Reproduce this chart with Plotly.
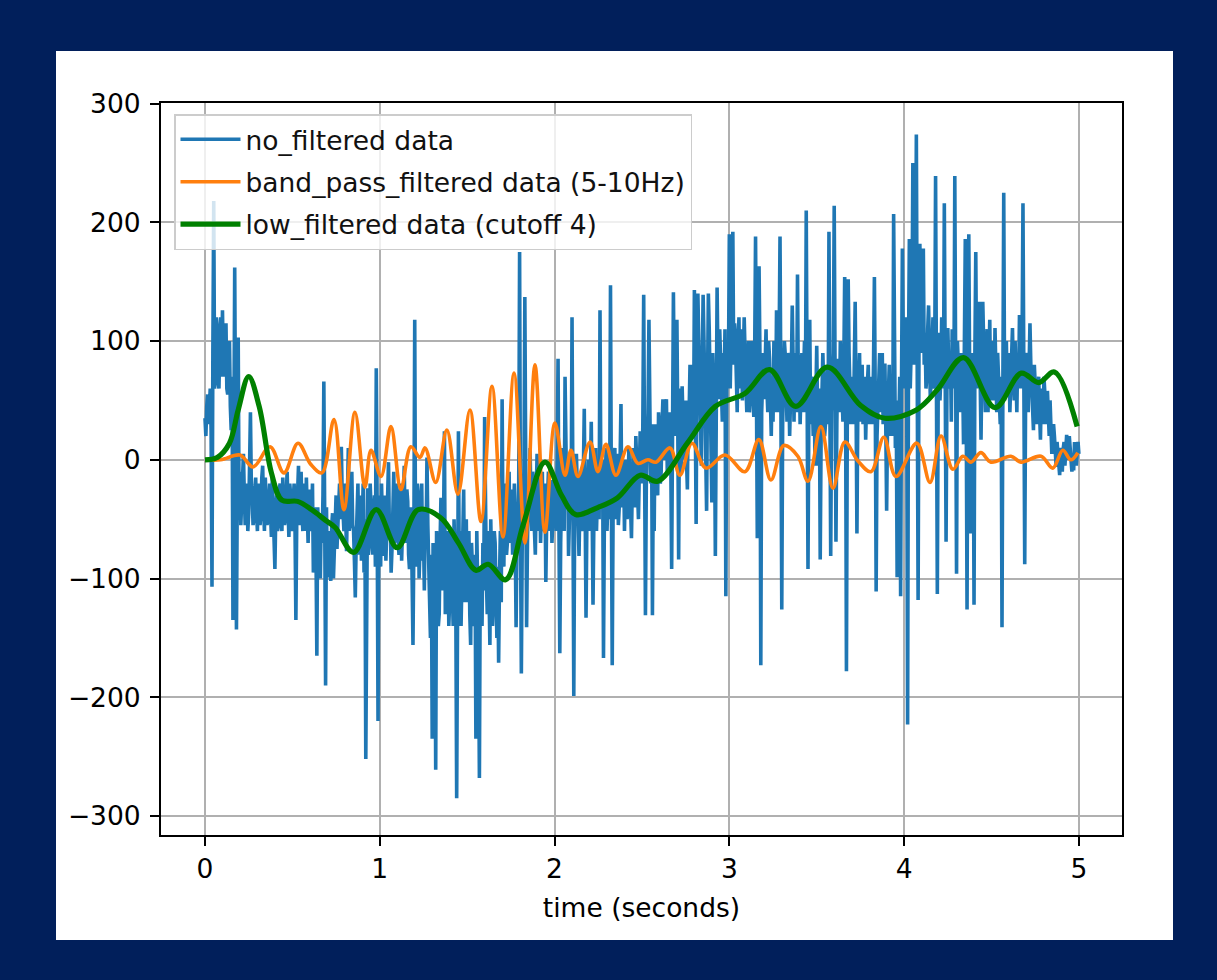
import plotly.graph_objects as go

# ---------------- data ----------------
# raw signal, samples at t = 0.00, 0.01, ... 5.00
raw_values = [
    35, 45, 30, 60, -107, 218, 75, 110, 60, 120,
    126, 70, 115, 55, 100, 25, -135, 162, -143, 103,
    -10, -40, 5, -55, -20, -45, 40, -30, -50, -15,
    -60, -25, -45, -5, -60, -30, -50, -20, -65, -35,
    -92, -30, -55, -20, -60, -35, -50, -10, -65, -30,
    -45, -20, -135, -30, -55, -10, -60, -40, -15, -70,
    -30, -50, -95, -40, -165, -60, -100, -70, 66, -190,
    -99, -60, -102, -45, -80, -30, -60, -20, 11, -45,
    -20, -77, 10, -40, -10, -60, -116, -40, -80, -30,
    -60, -95, -252, -24, -70, -40, -80, -30, 77, -220,
    -60, -20, -81, -30, -65, -2, -50, -75, -10, -60,
    -30, -80, -20, -55, -5, -70, -35, -92, -40, -156,
    118, -60, -30, -75, -20, -62, -40, 2, -90, -150,
    -235, -120, -261, -80, -130, -32, -90, 24, -100, -60,
    -118, -70, -140, -90, -285, 24, -60, -100, -25, -80,
    -120, -60, -156, -90, -130, -235, -110, -268, -118, -70,
    36, -100, -60, -156, -90, -120, -70, -150, -171, -60,
    51, -90, -30, -70, -10, -60, -80, -20, -141, -50,
    175, -180, -40, 137, -141, -30, 10, -60, -20, -80,
    5, -40, -70, -10, -50, -103, -30, -60, -17, -50,
    -17, -60, 85, -163, -30, -10, 70, -40, -81, -20,
    120, -199, -40, -20, -81, -10, -50, 43, -133, -30,
    -60, 32, -122, -20, -60, 0, 126, -40, -167, -20,
    -60, -10, 147, -173, -20, -50, 5, -40, 47, -30,
    -60, 0, -40, -20, -66, 10, -40, -10, -50, 24,
    -20, 139, -131, 10, 118, -20, -131, -60, 10, -30,
    24, -10, 51, 0, 51, 10, 24, -92, 141, 20,
    118, -84, 30, 62, 0, 32, -25, 40, 20, 80,
    143, -54, 140, 60, -5, 139, 50, -43, 140, 70,
    -36, 60, -81, 145, 51, 80, 32, 60, -115, 100,
    190, 110, 192, 115, 70, 100, 60, 110, 80, 90,
    40, 100, 55, 80, 36, 188, -66, 163, -173, 60,
    51, 110, 40, 85, 20, 32, 90, 126, 40, 188,
    -126, 60, 88, 32, 70, 40, 130, 32, 80, 156,
    88, 50, 40, 100, 210, -92, 118, 70, 20, -5,
    96, -5, -84, 50, 62, 30, 80, 192, -81, 60,
    214, -69, 85, 40, 70, 32, 154, -178, 152, 60,
    70, 30, 133, -62, 60, 32, 80, 40, 17, 60,
    30, 70, 40, 154, -111, 50, 90, 70, 30, 81,
    -43, 60, 20, 50, 207, 10, -99, 30, -115, 178,
    60, 120, -223, 186, 100, 250, 130, 274, -118, 182,
    90, 178, 107, 70, 130, 51, 100, 60, 239, -113,
    107, 70, 90, 216, -69, 111, 60, 32, 80, 239,
    -96, 70, 40, 60, 13, 186, -126, 190, -62, 40,
    -122, 175, 90, 133, 17, 133, 60, 90, 40, 118,
    60, 80, 111, 40, 70, 30, -141, 225, 80, 55,
    90, 60, 111, 50, 70, 90, 122, 60, 216, -88,
    70, 40, 115, 60, 25, 60, 30, 70, 17, 50,
    70, 40, 58, 20, 32, 10, 20, -6, 5, -13,
    0, 9, -5, 21, 5, 9, -10, -9, 10, 2,
    5,
]
# raw signal, samples at t = 0.005, 0.015, ... 4.995
raw_values_mid = [
    20, 55, 40, 25, 90, 60, 120, 65, 100, 70,
    80, 110, 60, 95, 45, 70, 10, 20, -20, -40,
    -55, -10, -30, -25, -60, -5, -20, -55, -25, -45,
    -20, -55, -15, -40, -15, -55, -25, -45, -15, -60,
    -45, -60, -25, -50, -15, -55, -25, -40, -20, -60,
    -25, -55, -50, -5, -30, -45, -20, -60, -45, -25,
    -60, -20, -55, -75, -40, -85, -45, -30, -50, -40,
    -70, -90, -55, -100, -50, -75, -35, -50, -30, -60,
    -50, -30, -60, -20, -55, -85, -70, -20, -55, -85,
    -20, -50, -60, -80, -20, -65, -45, -90, -40, -30,
    -90, -55, -40, -85, -30, -60, -95, -35, -70, -20,
    -65, -40, -85, -30, -60, -25, -80, -50, -100, -70,
    -90, -20, -100, -50, -85, -110, -70, -55, -120, -80,
    -70, -95, -60, -140, -70, -110, -50, -130, -80, -140,
    -60, -110, -50, -120, -80, -100, -140, -60, -120, -50,
    -90, -130, -70, -140, -80, -60, -150, -90, -140, -110,
    -80, -130, -110, -50, -140, -60, -120, -90, -100, -120,
    -60, -20, -80, -40, -70, -25, -50, -70, -60, -20,
    -60, -70, -10, -60, -70, -50, -40, -10, -60, -30,
    -60, -15, -30, -60, -20, -50, -10, -40, -70, -25,
    -40, 0, -50, -70, 10, -60, -30, 0, -50, -40,
    -30, -50, 5, -50, -35, -60, -10, -40, -50, 0,
    -20, -40, -50, 10, -30, -50, -20, 0, -50, 10,
    -30, -50, -30, -40, 10, -20, -55, 0, -40, 0,
    -20, -50, 10, -45, -20, -30, 20, -35, -10, 0,
    30, 0, -20, 40, 20, 30, -10, 30, -20, 40,
    -20, 30, 10, 40, -10, 40, 0, 30, 60, 40,
    30, 60, -10, 20, 50, 0, 50, 80, 50, 20,
    40, 90, 100, 30, 80, 100, 30, 60, 110, 30,
    90, 30, 60, 80, 110, 40, 90, 110, 60, 80,
    60, 140, 80, 100, 40, 120, 90, 50, 120, 60,
    80, 40, 100, 60, 90, 60, 40, 90, 40, 90,
    90, 60, 100, 50, 70, 100, 40, 70, 100, 50,
    30, 100, 50, 90, 20, 80, 60, 90, 40, 60,
    30, 90, 70, 40, 60, 40, 30, 50, 70, 50,
    40, 60, 20, 90, 20, 70, 30, 50, 40, 90,
    50, 30, 60, 100, 40, 80, 60, 40, 90, 30,
    40, 80, 50, 40, 90, 60, 30, 70, 50, 80,
    60, 30, 80, 50, 20, 70, 40, 90, 60, 30,
    30, 80, 60, 20, 70, 50, 40, 70, 60, 100,
    110, 50, 90, 60, 120, 80, 110, 60, 90, 130,
    120, 80, 60, 110, 90, 70, 120, 80, 70, 60,
    50, 120, 60, 80, 60, 80, 90, 110, 60, 70,
    100, 50, 90, 70, 100, 60, 80, 70, 90, 60,
    90, 60, 110, 70, 80, 100, 40, 110, 80, 50,
    100, 50, 70, 90, 50, 70, 60, 50, 100, 70,
    40, 90, 70, 100, 40, 60, 80, 100, 70, 50,
    90, 70, 80, 40, 80, 40, 60, 40, 60, 30,
    50, 30, 40, 50, 5, 30, 0, 15, -10, 10,
    -10, 15, 10, 0, 20, -5, 5, 15, -5, 15,
]

band_time = [0.0, 0.09, 0.20, 0.275, 0.372, 0.452, 0.532, 0.606, 0.669, 0.738,
             0.795, 0.858, 0.915, 0.95, 1.007, 1.064, 1.121, 1.178, 1.23, 1.259,
             1.32, 1.384, 1.447, 1.516, 1.579, 1.642, 1.705, 1.768, 1.831, 1.888,
             1.945, 2.002, 2.06, 2.094, 2.134, 2.203, 2.248, 2.294, 2.351, 2.42,
             2.477, 2.534, 2.58, 2.66, 2.717, 2.786, 2.866, 2.975, 3.089, 3.169,
             3.238, 3.312, 3.392, 3.45, 3.524, 3.593, 3.661, 3.736, 3.81, 3.884,
             3.953, 4.073, 4.148, 4.211, 4.279, 4.336, 4.382, 4.439, 4.497, 4.611,
             4.668, 4.783, 4.851, 4.908, 4.954, 4.994]
band_values = [0, 0, 4, -6, 11, -11, 14, -4, -11, 34,
               -42, 40, -23, 8, -14, 28, -25, 11, 2, 10,
               -19, 25, -29, 42, -52, 62, -65, 73, -70, 80,
               -61, 31, -13, 8, -14, 15, -10, 13, -13, 11,
               -3, 0, -2, 10, -13, 14, -7, 4, -10, 17,
               -17, 12, 3, -18, 28, -24, 15, -1, -10, 19,
               -14, 14, -19, 20, -8, 3, -2, 6, -2, 3,
               -2, 3, -7, 8, 0, 6]

low_time = [0.0, 0.07, 0.14, 0.19, 0.25, 0.31, 0.38, 0.44, 0.53, 0.61,
            0.69, 0.745, 0.85, 0.98, 1.10, 1.22, 1.35, 1.45, 1.55, 1.62,
            1.72, 1.82, 1.945, 2.04, 2.12, 2.25, 2.36, 2.49, 2.59, 2.76,
            2.92, 3.09, 3.23, 3.38, 3.56, 3.75, 3.89, 4.07, 4.19, 4.34,
            4.52, 4.67, 4.77, 4.86, 4.99]
low_values = [0, 2, 14, 42, 70, 45, -11, -34, -35, -42,
              -51, -57, -78, -42, -74, -42, -49, -70, -93, -88,
              -101, -55, -2, -30, -46, -40, -32, -13, -18, 14,
              45, 56, 76, 45, 78, 46, 35, 42, 59, 86,
              44, 73, 65, 74, 28]

x_ticks = [0, 1, 2, 3, 4, 5]
y_ticks = [-300, -200, -100, 0, 100, 200, 300]

# merge the two sample sets of the raw signal into one time-ordered table
raw_pairs = [(round(i * 0.01, 3), v) for i, v in enumerate(raw_values)]
raw_pairs += [(round(0.005 + i * 0.01, 3), v) for i, v in enumerate(raw_values_mid)]
raw_pairs.sort()
raw_time = [p[0] for p in raw_pairs]
raw_all = [p[1] for p in raw_pairs]

# ---------------- figure ----------------
W, H = 1217, 980
L, R, T, B = 161, 95, 103, 145
pw, ph = W - L - R, H - T - B


def px2paper_x(px):
    return (px - L) / pw


def px2paper_y(py):
    return (H - B - py) / ph


FONT = "DejaVu Sans"
FS = 26.5

fig = go.Figure()
fig.add_trace(go.Scatter(x=raw_time, y=raw_all, mode="lines",
                         name="no_filtered data", legendgroup="a",
                         line=dict(color="#1f77b4", width=3.6)))
fig.add_trace(go.Scatter(x=band_time, y=band_values, mode="lines",
                         name="band_pass_filtered data (5-10Hz)", legendgroup="b",
                         line=dict(color="#ff7f0e", width=3.6, shape="spline", smoothing=1.0)))
fig.add_trace(go.Scatter(x=low_time, y=low_values, mode="lines",
                         name="low_filtered data (cutoff 4)", legendgroup="c",
                         line=dict(color="#008000", width=5.2, shape="spline", smoothing=1.0)))

axis_common = dict(showline=True, linecolor="black", linewidth=2, mirror=True,
                   ticks="outside", ticklen=9, tickwidth=2, tickcolor="black",
                   showgrid=True, gridcolor="#b0b0b0", gridwidth=1.6,
                   zeroline=False, tickfont=dict(family=FONT, size=FS, color="black"))

fig.update_layout(
    width=W, height=H,
    margin=dict(l=L, r=R, t=T, b=B, pad=0),
    paper_bgcolor="#011f5b",
    plot_bgcolor="white",
    font=dict(family=FONT, size=FS, color="black"),
    xaxis=dict(range=[-0.2517, 5.2466], tickvals=x_ticks,
               title=dict(text="time (seconds)", font=dict(family=FONT, size=FS, color="black"),
                          standoff=16),
               **axis_common),
    yaxis=dict(range=[-316, 300.5], tickvals=y_ticks, ticklabelstandoff=4, **axis_common),
    legend=dict(x=px2paper_x(174), y=px2paper_y(114), xanchor="left", yanchor="top",
                bgcolor="rgba(255,255,255,0.8)", bordercolor="#cccccc", borderwidth=1.5,
                font=dict(family=FONT, size=FS, color="#111111"),
                traceorder="grouped", tracegroupgap=5, itemwidth=60),
    shapes=[dict(type="rect", xref="paper", yref="paper", layer="below",
                 x0=px2paper_x(56), x1=px2paper_x(1173),
                 y0=px2paper_y(940), y1=px2paper_y(51),
                 fillcolor="white", line=dict(width=0))],
    showlegend=True,
)

fig.write_html("out.html")
